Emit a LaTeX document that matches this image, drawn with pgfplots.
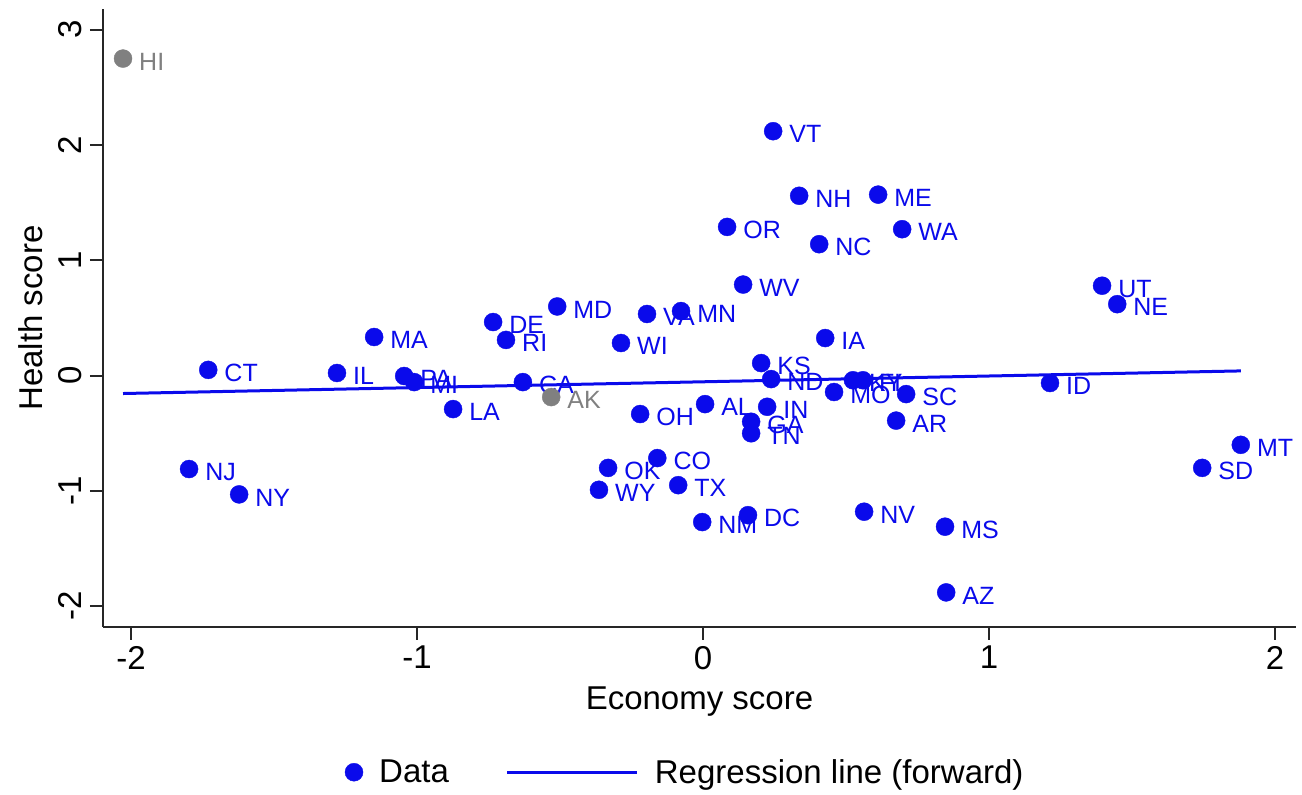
\documentclass[border=0pt]{standalone}
\usepackage{pgfplots}
\usepackage{pgfplotstable}
\usepackage{fontspec}
\setmainfont{Liberation Sans}
\pgfplotsset{compat=1.18}
\definecolor{dblue}{RGB}{10,10,235}
\definecolor{dgray}{RGB}{128,128,128}

\pgfplotstableread{
x y lab
0.245 2.12 VT
0.336 1.56 NH
0.612 1.57 ME
0.084 1.29 OR
0.406 1.14 NC
0.696 1.27 WA
0.140 0.79 WV
1.395 0.78 UT
1.448 0.62 NE
-0.510 0.60 MD
-0.734 0.465 DE
-0.196 0.535 VA
-0.077 0.56 MN
-1.150 0.335 MA
-0.689 0.31 RI
-0.287 0.283 WI
0.427 0.326 IA
-1.730 0.05 CT
-1.280 0.023 IL
-1.045 -0.003 PA
-1.010 -0.056 MI
0.203 0.109 KS
0.238 -0.03 ND
-0.630 -0.056 CA
0.524 -0.04 KY
0.559 -0.04 FL
0.458 -0.142 MO
0.710 -0.16 SC
1.213 -0.064 ID
-0.874 -0.29 LA
-0.220 -0.333 OH
0.007 -0.247 AL
0.224 -0.27 IN
0.168 -0.40 GA
0.168 -0.50 TN
0.675 -0.39 AR
-0.160 -0.715 CO
-0.332 -0.80 OK
-0.087 -0.95 TX
-0.364 -0.99 WY
-1.797 -0.81 NJ
-1.622 -1.03 NY
-0.003 -1.27 NM
0.157 -1.21 DC
0.563 -1.18 NV
0.846 -1.31 MS
0.850 -1.88 AZ
1.880 -0.60 MT
1.745 -0.80 SD
}\blue

\pgfplotstableread{
x y lab
-2.028 2.75 HI
-0.531 -0.186 AK
}\grayd

\pgfplotstableread{
x y
-2.028 -0.155
1.880 0.041
}\regline

\begin{document}
\begin{tikzpicture}
\begin{axis}[
  scale only axis,
  width=1193pt, height=618pt,
  xmin=-2.098, xmax=2.073,
  ymin=-2.18, ymax=3.18,
  axis x line*=bottom, axis y line*=left,
  axis line style={line width=1.8pt, black!85},
  xtick={-2,-1,0,1,2}, ytick={-2,-1,0,1,2,3},
  tick align=outside,
  major tick length=13pt,
  tick style={line width=1.8pt, black!85},
  /pgf/number format/assume math mode=true,
  tick label style={font=\fontsize{33}{40}\selectfont},
  yticklabel style={rotate=90, anchor=south, inner sep=8pt},
  xticklabel style={inner sep=6pt},
  xlabel={Economy score},
  ylabel={Health score},
  label style={font=\fontsize{33}{40}\selectfont},
  xlabel style={yshift=-8pt},
  ylabel style={yshift=4pt},
  clip=false,
  legend columns=2,
  legend style={at={(0.488,-0.235)}, anchor=center, draw=none,
    font=\fontsize{33}{40}\selectfont,
    /tikz/every odd column/.append style={column sep=14pt},
    /tikz/every even column/.append style={column sep=55pt}},
]
\addplot[only marks, mark=*, mark size=9pt, color=dblue,
  point meta=explicit symbolic,
  nodes near coords,
  every node near coord/.append style={anchor=west, inner sep=0pt, xshift=16pt, yshift=-3pt, font=\fontsize{25}{30}\selectfont, text=dblue},
  legend image code/.code={\fill[dblue] (0pt,0pt) circle (9pt);}
] table[x=x, y=y, meta=lab] {\blue};
\addlegendentry{Data}
\addplot[color=dblue, line width=3pt,
  legend image code/.code={\draw[dblue, line width=3pt] (0pt,0pt) -- (130pt,0pt);}
] table[x=x, y=y] {\regline};
\addlegendentry{Regression line (forward)}
\addplot[only marks, mark=*, mark size=9pt, color=dgray, forget plot,
  point meta=explicit symbolic,
  nodes near coords,
  every node near coord/.append style={anchor=west, inner sep=0pt, xshift=16pt, yshift=-3pt, font=\fontsize{25}{30}\selectfont, text=dgray}
] table[x=x, y=y, meta=lab] {\grayd};
\path ([shift={(-103pt,-168pt)}]rel axis cs:0,0) rectangle ([shift={(6pt,9pt)}]rel axis cs:1,1);
\end{axis}
\end{tikzpicture}
\end{document}
